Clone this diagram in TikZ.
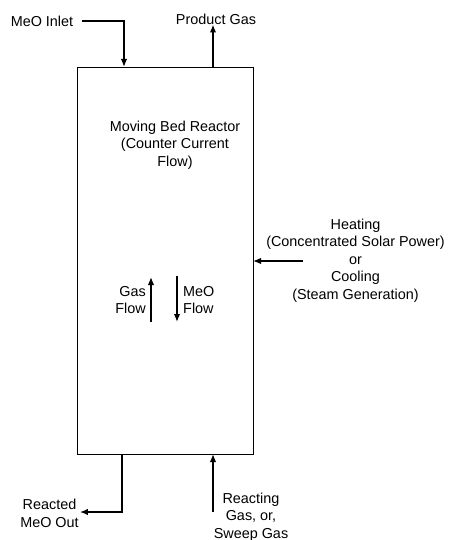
\documentclass[tikz,border=0pt]{standalone}
\usepackage{fontspec}
\setmainfont{Liberation Sans}
\usetikzlibrary{arrows.meta, positioning, calc}

\begin{document}
\begin{tikzpicture}[x=1pt, y=-1pt,
    every node/.style={font=\fontsize{14.4}{17.5}\selectfont, inner sep=0pt, align=center},
    flow/.style={-{Latex[length=8pt, width=6.5pt]}, line width=1.5pt}]
        \useasboundingbox (0,0) rectangle (450,540);
        % reactor vessel
        \node[draw, line width=0.8pt, minimum width=176pt, minimum height=387pt] (reactor) at (165,260.5) {};
        \node (title) at (175,145) {Moving Bed Reactor\\(Counter Current\\Flow)};
        % ports on the vessel wall
        \coordinate (feed) at (124,67);
        \coordinate (exhaust) at (213,67);
        \coordinate (discharge) at (122,454);
        \coordinate (sweep) at (213,454);
        \coordinate (side) at (253,261);
        % stream labels
        \node (inlet) at (42,21) {MeO Inlet};
        \node (product) at (216,19) {Product Gas};
        \node (heat) at (355.5,260.5) {Heating\\(Concentrated Solar Power)\\or\\Cooling\\(Steam Generation)};
        \node (spent) at (49.5,513.5) {Reacted\\MeO Out};
        \node (gasin) at (251,517) {Reacting\\Gas, or,\\Sweep Gas};
        \node[align=right, anchor=east] (gaslbl) at (146,300) {Gas\\Flow};
        \node[align=left, anchor=west] (meolbl) at (183,300) {MeO\\Flow};
        % streams
        \draw[flow] ([xshift=9pt]inlet.east) -| (feed);
        \draw[flow] (exhaust) -- (exhaust |- product.south);
        \draw[flow] ([xshift=37pt]heat.west |- side) -- (side);
        \draw[flow] (discharge) |- ([xshift=1pt]spent.east |- 0,512);
        \draw[flow] (sweep |- 0,512) -- (sweep);
        % flow directions inside the bed
        \draw[flow] (151,322) -- (151,277);
        \draw[flow] (177,276) -- (177,322);
      \end{tikzpicture}
\end{document}
